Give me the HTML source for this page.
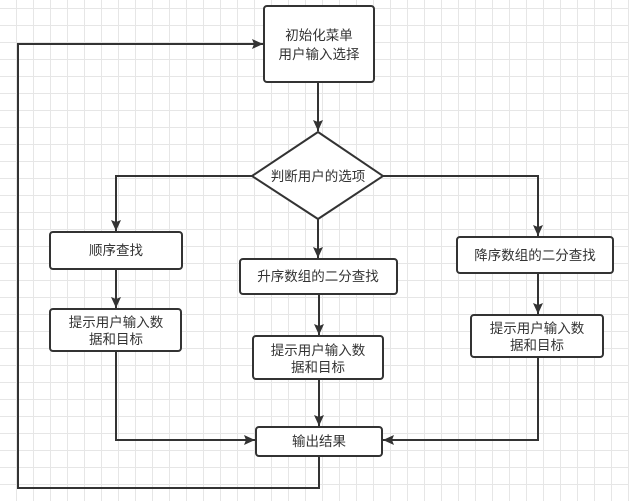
<!DOCTYPE html>
<html><head><meta charset="utf-8"><style>
html,body{margin:0;padding:0;}
body{width:629px;height:501px;overflow:hidden;background:#fff;
background-image:linear-gradient(#e6e6e6 1px,transparent 1px),linear-gradient(90deg,#e6e6e6 1px,transparent 1px);
background-size:17px 17px;background-position:-1px 8px;}
svg{position:absolute;left:0;top:0;}
text{font-family:"Liberation Sans","Noto Sans CJK SC",sans-serif;font-size:13.5px;fill:#333;text-anchor:middle;}
</style></head><body>
<svg width="629" height="501" viewBox="0 0 629 501">
<defs><marker id="a" markerWidth="12" markerHeight="12" refX="11" refY="5" orient="auto" markerUnits="userSpaceOnUse"><path d="M0,0 L11,5 L0,10 L2,5 z" fill="#333"/></marker></defs>
<g fill="none" stroke="#333" stroke-width="2">
<path d="M318,82 V131" marker-end="url(#a)"/>
<path d="M319,456 V488 H18 V44 H263" marker-end="url(#a)"/>
<path d="M252,176 H116 V231" marker-end="url(#a)"/>
<path d="M383,176 H538 V236" marker-end="url(#a)"/>
<path d="M318,219 V258" marker-end="url(#a)"/>
<path d="M116,269 V308" marker-end="url(#a)"/>
<path d="M319,294 V335" marker-end="url(#a)"/>
<path d="M538,273 V314" marker-end="url(#a)"/>
<path d="M116,351 V440 H255" marker-end="url(#a)"/>
<path d="M319,379 V426" marker-end="url(#a)"/>
<path d="M538,357 V440 H383" marker-end="url(#a)"/>
</g>
<g fill="#fff" stroke="#333" stroke-width="2">
<rect x="264" y="6" width="110" height="76" rx="3"/>
<path d="M318,132 L383,176 L318,219 L252,176 Z"/>
<rect x="50" y="232" width="132" height="37" rx="3"/>
<rect x="50" y="309" width="131" height="42" rx="3"/>
<rect x="240" y="259" width="157" height="35" rx="3"/>
<rect x="253" y="336" width="130" height="43" rx="3"/>
<rect x="457" y="237" width="156" height="36" rx="3"/>
<rect x="471" y="315" width="132" height="42" rx="3"/>
<rect x="256" y="427" width="126" height="29" rx="3"/>
</g>
<text x="319" y="40">初始化菜单</text>
<text x="319" y="59">用户输入选择</text>
<text x="318" y="181">判断用户的选项</text>
<text x="116" y="255">顺序查找</text>
<text x="116" y="327">提示用户输入数</text>
<text x="116" y="344">据和目标</text>
<text x="318" y="281">升序数组的二分查找</text>
<text x="318" y="355">提示用户输入数</text>
<text x="318" y="372">据和目标</text>
<text x="535" y="260">降序数组的二分查找</text>
<text x="537" y="333">提示用户输入数</text>
<text x="537" y="350">据和目标</text>
<text x="319" y="446">输出结果</text>
</svg>
</body></html>
